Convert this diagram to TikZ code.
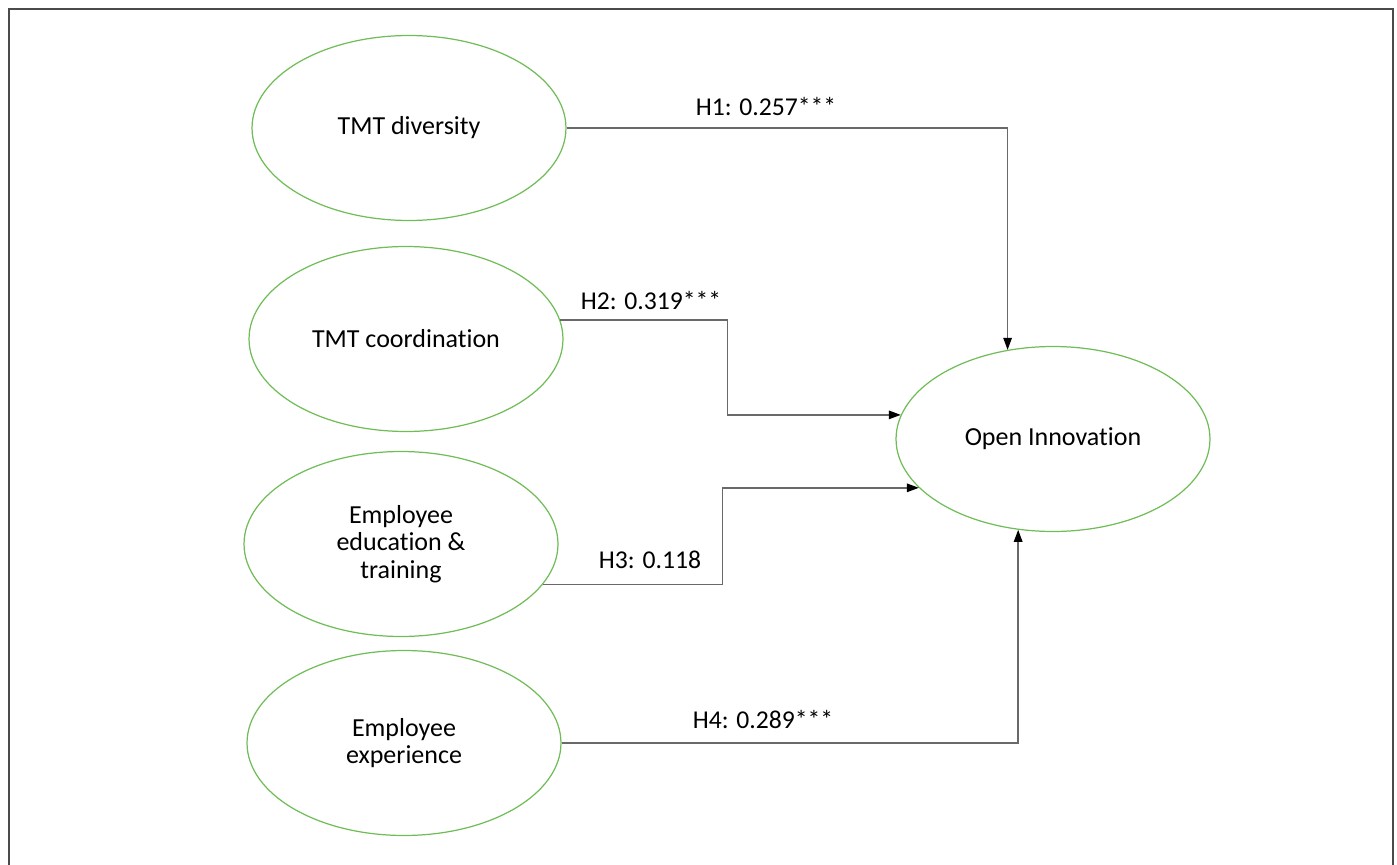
\documentclass[tikz,border=0pt]{standalone}
\usepackage{fontspec}
\setmainfont{Carlito}[Ligatures=NoCommon]
\usetikzlibrary{shapes.geometric,arrows.meta}
\definecolor{ovalgreen}{RGB}{112,189,88}
\definecolor{linegray}{RGB}{105,105,105}
\definecolor{framegray}{RGB}{75,75,75}
\tikzset{
  construct/.style={ellipse, draw=ovalgreen, line width=0.7pt, minimum width=6.28cm, minimum height=3.7cm, inner sep=0pt, align=center, font=\fontsize{14.8}{15.6}\selectfont},
  link/.style={draw=linegray, line width=0.8pt, -{Triangle[length=2.4mm,width=1.7mm,color=black]}},
  coef/.style={font=\fontsize{14.6}{15.6}\selectfont}
}
\begin{document}
\begin{tikzpicture}[x=0.02cm, y=-0.02cm]
  \useasboundingbox (0,0) rectangle (1397,865);
  \draw [draw=framegray, line width=1.1pt] (9,880)--(9,9)--(1393,9)--(1393,880);
  % constructs
  \node [construct] (div) at (409,128) {TMT diversity};
  \node [construct] (coord) at (406,339) {TMT coordination};
  \node [construct] (edu) at (401,544) {Employee\\education \&\\training};
  \node [construct] (exper) at (404,743) {Employee\\experience};
  \node [construct] (oi) at (1053,439) {Open Innovation};
  % paths
  \draw [link] (div.east) -| (oi.117);
  \draw [link] (coord.7) -- ++(167,0) |- (oi.171);
  \draw [link] (edu.-16) -- ++(180,0) |- (oi.-160);
  \draw [link] (exper.east) -| (oi.-111);
  % coefficients
  \node [coef] (h1) at (766,106) {H1: 0.257***};
  \node [coef] (h2) at (651,300) {H2: 0.319***};
  \node [coef] (h3) at (650,560) {H3: 0.118};
  \node [coef] (h4) at (763,719) {H4: 0.289***};
\end{tikzpicture}
\end{document}
